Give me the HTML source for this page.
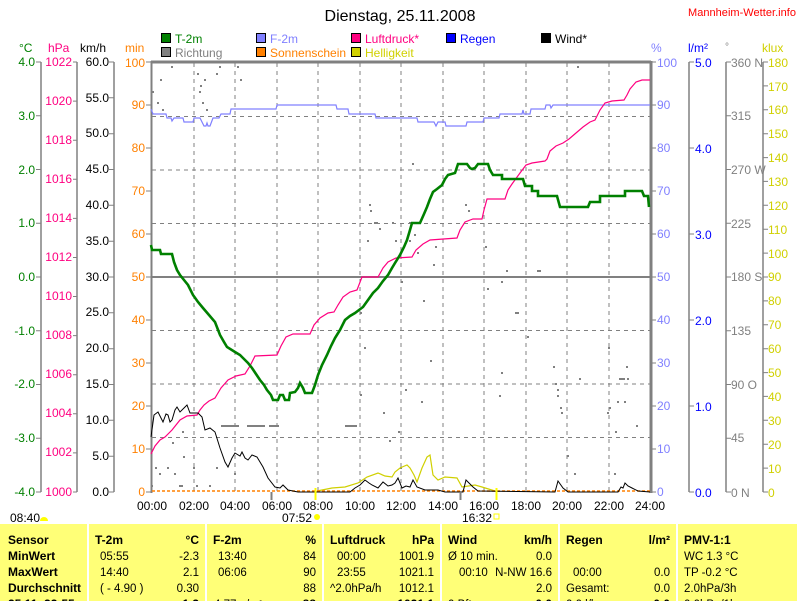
<!DOCTYPE html>
<html><head><meta charset="utf-8"><style>
body{margin:0;background:#fff;}
svg{display:block;font-family:"Liberation Sans",sans-serif;}
</style></head><body>
<svg width="800" height="601" viewBox="0 0 800 601" xmlns="http://www.w3.org/2000/svg">
<rect width="800" height="601" fill="#fff"/>
<text x="400" y="21" font-size="16" text-anchor="middle">Dienstag, 25.11.2008</text>
<text x="688" y="16" font-size="11" fill="#ff0000" textLength="108">Mannheim-Wetter.info</text>

<g font-size="12" stroke="#000" stroke-width="1">
<rect x="161.5" y="33.5" width="9" height="9" fill="#008000"/>
<rect x="161.5" y="47.5" width="9" height="9" fill="#808080"/>
<rect x="256.5" y="33.5" width="9" height="9" fill="#8080ff"/>
<rect x="256.5" y="47.5" width="9" height="9" fill="#ff8000"/>
<rect x="351.5" y="33.5" width="9" height="9" fill="#ff0080"/>
<rect x="351.5" y="47.5" width="9" height="9" fill="#d0d000"/>
<rect x="446.5" y="33.5" width="9" height="9" fill="#0000ff"/>
<rect x="541.5" y="33.5" width="9" height="9" fill="#000"/>
</g>
<g font-size="12">
<text x="175" y="43" fill="#008000">T-2m</text>
<text x="175" y="57" fill="#808080">Richtung</text>
<text x="270" y="43" fill="#8080ff">F-2m</text>
<text x="270" y="57" fill="#ff8000">Sonnenschein</text>
<text x="365" y="43" fill="#ff0080">Luftdruck*</text>
<text x="365" y="57" fill="#d0d000">Helligkeit</text>
<text x="460" y="43" fill="#0000ff">Regen</text>
<text x="555" y="43" fill="#000">Wind*</text>
</g>
<g font-size="12">
<text x="19" y="52" fill="#008000">°C</text>
<text x="48" y="52" fill="#ff0080">hPa</text>
<text x="80" y="52" fill="#000">km/h</text>
<text x="125" y="52" fill="#ff8000">min</text>
<text x="651" y="52" fill="#8080ff">%</text>
<text x="688" y="52" fill="#0000ff">l/m²</text>
<text x="725" y="50" fill="#808080" font-size="10">°</text>
<text x="762" y="52" fill="#d0d000">klux</text>
</g>

<g stroke="#808080" stroke-width="1" stroke-dasharray="4,4">
<line x1="152" y1="116.5" x2="650" y2="116.5"/>
<line x1="152" y1="170" x2="650" y2="170"/>
<line x1="152" y1="223.5" x2="650" y2="223.5"/>
<line x1="152" y1="330.5" x2="650" y2="330.5"/>
<line x1="152" y1="384" x2="650" y2="384"/>
<line x1="152" y1="437.5" x2="650" y2="437.5"/>
<line x1="194" y1="63" x2="194" y2="491"/>
<line x1="235" y1="63" x2="235" y2="491"/>
<line x1="277" y1="63" x2="277" y2="491"/>
<line x1="318" y1="63" x2="318" y2="491"/>
<line x1="360" y1="63" x2="360" y2="491"/>
<line x1="401" y1="63" x2="401" y2="491"/>
<line x1="443" y1="63" x2="443" y2="491"/>
<line x1="484" y1="63" x2="484" y2="491"/>
<line x1="526" y1="63" x2="526" y2="491"/>
<line x1="567" y1="63" x2="567" y2="491"/>
<line x1="609" y1="63" x2="609" y2="491"/>
</g>
<line x1="152" y1="277" x2="650" y2="277" stroke="#808080" stroke-width="2"/>
<g stroke="#808080" fill="none">
<line x1="151" y1="62" x2="651" y2="62" stroke-width="3"/>
<line x1="651" y1="61" x2="651" y2="493" stroke-width="3"/>
<line x1="151.5" y1="61" x2="151.5" y2="493" stroke-width="2"/>
</g>

<g stroke="#808080" stroke-width="1.5">
<line x1="41" y1="62" x2="41" y2="492"/>
<line x1="77" y1="62" x2="77" y2="492"/>
<line x1="114" y1="62" x2="114" y2="492"/>
<line x1="689" y1="62" x2="689" y2="492"/>
<line x1="726" y1="62" x2="726" y2="492"/>
<line x1="763" y1="62" x2="763" y2="492"/>
</g>
<g font-size="12" fill="#008000" text-anchor="end">
<text x="35" y="66">4.0</text><text x="35" y="120">3.0</text><text x="35" y="174">2.0</text><text x="35" y="227">1.0</text><text x="35" y="281">0.0</text><text x="35" y="335">-1.0</text><text x="35" y="388">-2.0</text><text x="35" y="442">-3.0</text><text x="35" y="496">-4.0</text>
</g>
<g stroke="#808080" stroke-width="1">
<path d="M36 62H41M36 115.75H41M36 169.5H41M36 223.25H41M36 277H41M36 330.75H41M36 384.5H41M36 438.25H41M36 492H41"/>
<path d="M73 62H77M73 101.1H77M73 140.2H77M73 179.3H77M73 218.4H77M73 257.5H77M73 296.5H77M73 335.6H77M73 374.7H77M73 413.8H77M73 452.9H77M73 492H77"/>
<path d="M109 62H114M109 97.8H114M109 133.7H114M109 169.5H114M109 205.3H114M109 241.2H114M109 277H114M109 312.8H114M109 348.7H114M109 384.5H114M109 420.3H114M109 456.2H114M109 492H114"/>
<path d="M146 62H151M146 105H151M146 148H151M146 191H151M146 234H151M146 277H151M146 320H151M146 363H151M146 406H151M146 449H151M146 492H151"/>
<path d="M651 62H656M651 105H656M651 148H656M651 191H656M651 234H656M651 277H656M651 320H656M651 363H656M651 406H656M651 449H656M651 492H656"/>
<path d="M689 62H694M689 148H694M689 234H694M689 320H694M689 406H694M689 492H694"/>
<path d="M726 62H731M726 115.75H731M726 169.5H731M726 223.25H731M726 277H731M726 330.75H731M726 384.5H731M726 438.25H731M726 492H731"/>
<path d="M763 62H768M763 85.9H768M763 109.8H768M763 133.7H768M763 157.6H768M763 181.4H768M763 205.3H768M763 229.2H768M763 253.1H768M763 277H768M763 300.9H768M763 324.8H768M763 348.7H768M763 372.6H768M763 396.4H768M763 420.3H768M763 444.2H768M763 468.1H768M763 492H768"/>
</g>
<g font-size="12" fill="#ff0080" text-anchor="end">
<text x="72" y="66">1022</text><text x="72" y="105">1020</text><text x="72" y="144">1018</text><text x="72" y="183">1016</text><text x="72" y="222">1014</text><text x="72" y="261">1012</text><text x="72" y="300">1010</text><text x="72" y="339">1008</text><text x="72" y="378">1006</text><text x="72" y="417">1004</text><text x="72" y="456">1002</text><text x="72" y="496">1000</text>
</g>
<g font-size="12" fill="#000" text-anchor="end">
<text x="109" y="66">60.0</text><text x="109" y="102">55.0</text><text x="109" y="137">50.0</text><text x="109" y="173">45.0</text><text x="109" y="209">40.0</text><text x="109" y="245">35.0</text><text x="109" y="281">30.0</text><text x="109" y="316">25.0</text><text x="109" y="352">20.0</text><text x="109" y="388">15.0</text><text x="109" y="424">10.0</text><text x="109" y="460">5.0</text><text x="109" y="496">0.0</text>
</g>
<g font-size="12" fill="#ff8000" text-anchor="end">
<text x="145" y="67">100</text><text x="145" y="109">90</text><text x="145" y="152">80</text><text x="145" y="195">70</text><text x="145" y="238">60</text><text x="145" y="281">50</text><text x="145" y="324">40</text><text x="145" y="367">30</text><text x="145" y="410">20</text><text x="145" y="453">10</text><text x="145" y="496">0</text>
</g>
<g font-size="12" fill="#8080ff">
<text x="657" y="67">100</text><text x="657" y="109">90</text><text x="657" y="152">80</text><text x="657" y="195">70</text><text x="657" y="238">60</text><text x="657" y="281">50</text><text x="657" y="324">40</text><text x="657" y="367">30</text><text x="657" y="410">20</text><text x="657" y="453">10</text><text x="657" y="496">0</text>
</g>
<g font-size="12" fill="#0000ff">
<text x="695" y="67">5.0</text><text x="695" y="153">4.0</text><text x="695" y="239">3.0</text><text x="695" y="325">2.0</text><text x="695" y="411">1.0</text><text x="695" y="497">0.0</text>
</g>
<g font-size="12" fill="#808080">
<text x="731" y="67">360 N</text><text x="731" y="120">315</text><text x="731" y="174">270 W</text><text x="731" y="228">225</text><text x="731" y="281">180 S</text><text x="731" y="335">135</text><text x="731" y="389">90  O</text><text x="731" y="442">45</text><text x="731" y="497">0   N</text>
</g>
<g font-size="12" fill="#d0d000">
<text x="768" y="67">180</text><text x="768" y="91">170</text><text x="768" y="114">160</text><text x="768" y="138">150</text><text x="768" y="162">140</text><text x="768" y="186">130</text><text x="768" y="210">120</text><text x="768" y="234">110</text><text x="768" y="258">100</text><text x="768" y="281">90</text><text x="768" y="305">80</text><text x="768" y="329">70</text><text x="768" y="353">60</text><text x="768" y="377">50</text><text x="768" y="401">40</text><text x="768" y="425">30</text><text x="768" y="449">20</text><text x="768" y="473">10</text><text x="768" y="497">0</text>
</g>

<g fill="#808080">
<rect x="152" y="91" width="2" height="2"/><rect x="157" y="102" width="2" height="2"/><rect x="160" y="79" width="2" height="2"/><rect x="162" y="109" width="2" height="2"/><rect x="171" y="66" width="2" height="2"/>
<rect x="197" y="73" width="2" height="2"/><rect x="199" y="91" width="2" height="2"/><rect x="200" y="85" width="2" height="2"/><rect x="202" y="102" width="2" height="2"/><rect x="204" y="79" width="2" height="2"/><rect x="206" y="109" width="2" height="2"/><rect x="216" y="73" width="2" height="2"/><rect x="219" y="66" width="2" height="2"/><rect x="237" y="66" width="2" height="2"/><rect x="240" y="79" width="2" height="2"/>
<rect x="369" y="204" width="2" height="2"/><rect x="370" y="210" width="2" height="2"/><rect x="374" y="222" width="4" height="2"/><rect x="379" y="228" width="2" height="2"/><rect x="367" y="240" width="2" height="2"/><rect x="392" y="222" width="2" height="2"/><rect x="395" y="240" width="2" height="2"/>
<rect x="412" y="163" width="2" height="2"/><rect x="465" y="204" width="2" height="2"/><rect x="468" y="210" width="2" height="2"/><rect x="409" y="222" width="2" height="2"/><rect x="414" y="234" width="2" height="2"/><rect x="409" y="240" width="2" height="2"/><rect x="417" y="252" width="2" height="2"/><rect x="435" y="246" width="2" height="2"/><rect x="433" y="264" width="2" height="2"/><rect x="485" y="246" width="2" height="2"/><rect x="506" y="270" width="2" height="2"/><rect x="537" y="270" width="4" height="2"/><rect x="577" y="66" width="2" height="2"/>
<rect x="221" y="425" width="18" height="2"/><rect x="247" y="425" width="18" height="2"/><rect x="269" y="425" width="10" height="2"/><rect x="345" y="425" width="12" height="2"/>
<rect x="360" y="312" width="2" height="2"/><rect x="364" y="347" width="2" height="2"/><rect x="360" y="394" width="2" height="2"/><rect x="383" y="412" width="2" height="2"/><rect x="182" y="431" width="2" height="2"/><rect x="172" y="442" width="2" height="2"/><rect x="183" y="456" width="2" height="2"/><rect x="155" y="467" width="2" height="2"/><rect x="167" y="467" width="2" height="2"/><rect x="193" y="467" width="2" height="2"/><rect x="216" y="467" width="2" height="2"/><rect x="159" y="473" width="2" height="2"/><rect x="174" y="473" width="2" height="2"/><rect x="234" y="473" width="2" height="2"/><rect x="151" y="485" width="2" height="2"/><rect x="179" y="485" width="4" height="2"/><rect x="196" y="485" width="2" height="2"/><rect x="209" y="485" width="2" height="2"/><rect x="389" y="440" width="2" height="2"/>
<rect x="401" y="281" width="2" height="2"/><rect x="423" y="300" width="2" height="2"/><rect x="501" y="281" width="2" height="2"/><rect x="487" y="288" width="2" height="2"/><rect x="515" y="312" width="4" height="2"/><rect x="527" y="336" width="2" height="2"/><rect x="430" y="360" width="2" height="2"/><rect x="501" y="372" width="2" height="2"/><rect x="553" y="366" width="2" height="2"/><rect x="555" y="383" width="2" height="2"/><rect x="557" y="389" width="2" height="2"/><rect x="557" y="395" width="2" height="2"/><rect x="405" y="389" width="2" height="2"/><rect x="421" y="401" width="2" height="2"/><rect x="499" y="395" width="2" height="2"/><rect x="579" y="378" width="2" height="2"/><rect x="608" y="347" width="2" height="2"/><rect x="609" y="407" width="2" height="2"/><rect x="607" y="412" width="2" height="2"/><rect x="560" y="407" width="2" height="2"/><rect x="561" y="412" width="2" height="2"/><rect x="617" y="401" width="2" height="2"/><rect x="624" y="401" width="2" height="2"/><rect x="619" y="378" width="6" height="2"/><rect x="627" y="378" width="2" height="2"/><rect x="626" y="366" width="2" height="2"/><rect x="398" y="431" width="2" height="2"/><rect x="615" y="431" width="2" height="2"/><rect x="636" y="425" width="2" height="2"/><rect x="567" y="455" width="2" height="2"/><rect x="574" y="473" width="2" height="2"/><rect x="614" y="473" width="2" height="2"/><rect x="400" y="467" width="2" height="2"/>
</g>

<polyline fill="none" stroke="#8080ff" stroke-width="1.2" points="151,109 153,114 166,114 167,118 171,118 172,121 174,118 183,118 184,122 193,122 194,118 200,118 202,122 204,126 206,126 207,123 208,126 210,126 213,118 219,118 221,114 230,114 231,109 276,109 277,105 336,105 337,109 348,109 349,114 375,114 376,118 417,118 418,122 434,122 436,126 438,122 445,122 446,126 466,126 467,122 483,122 484,118 499,118 500,114 522,114 523,110 524,114 530,114 531,109 545,109 546,105 550,105 551,108 553,105 650,105"/>
<polyline fill="none" stroke="#ff0080" stroke-width="1.2" points="151,454 155,446 160,440 165,437 172,430 180,420 187,416 197,415 200,410 204,405 209,401 215,398 218,393 221,388 228,380 236,376 245,374 250,366 255,356 277,355 281,346 286,337 293,334 310,334 314,325 320,318 328,313 334,312 338,305 343,297 350,292 357,290 362,277 378,277 383,268 388,262 396,258 412,257 416,250 423,244 430,240 457,238 460,230 465,222 473,219 482,219 484,210 487,199 505,199 508,190 512,184 520,173 526,165 532,163 545,161 547,159 550,151 556,146 563,143 569,139 576,133 583,127 590,122 595,120 600,110 605,103 612,101 624,100 627,95 630,89 636,82 642,80 650,80"/>
<polyline fill="none" stroke="#008000" stroke-width="2.6" points="151,245 152,250 160,250 161,254 172,254 174,262 177,270 180,275 184,280 188,285 193,295 198,302 203,308 209,315 215,322 220,335 224,342 227,347 235,352 240,355 243,358 248,363 252,368 256,374 260,380 264,385 267,390 271,395 273,400 278,400 280,395 283,395 285,400 289,400 290,393 295,392 298,388 300,383 303,388 305,393 312,393 315,385 318,375 322,365 327,355 331,346 335,338 340,330 345,320 350,316 355,313 359,310 363,307 368,300 373,293 378,288 383,281 388,275 392,268 395,263 400,255 404,247 407,240 410,230 412,223 420,223 424,214 427,207 430,199 433,192 437,189 442,185 445,179 448,175 455,173 458,164 467,164 470,168 472,169 475,168 478,164 488,164 490,170 493,175 502,175 502,179 523,179 525,186 532,186 532,191 538,191 538,196 557,196 560,207 588,207 590,202 600,202 600,196 625,196 625,191 642,191 644,196 648,196 649,207"/>
<polyline fill="none" stroke="#d0d000" stroke-width="1.2" points="317,491 332,488 345,487 358,483 367,477 378,473 385,476 392,477 395,472 400,468 407,465 410,468 414,475 417,482 422,468 427,457 430,455 433,475 438,480 445,477 457,478 462,487 475,485 482,487 495,491"/>
<line x1="152" y1="491" x2="650" y2="491" stroke="#ff8000" stroke-width="1.5" stroke-dasharray="3,2"/>
<polyline fill="none" stroke="#000" stroke-width="1" points="151,437 154,415 158,412 161,418 163,422 166,414 168,415 170,422 172,420 175,410 177,407 180,412 184,408 187,405 190,413 198,413 202,417 205,430 210,428 215,432 220,448 225,462 228,467 232,458 235,453 240,456 242,452 245,458 248,460 252,455 257,457 260,462 263,467 268,478 275,487 280,488 283,485 288,490 298,492 350,492 355,488 360,485 365,480 369,483 372,485 378,488 383,482 388,486 392,485 395,483 398,478 402,488 406,486 410,487 413,480 417,487 425,490 438,490 445,492 463,492 466,480 470,484 473,487 478,491 555,492 558,481 563,488 568,492 618,492 621,487 623,488 625,483 628,486 632,488 638,491 650,492"/>
<line x1="271.5" y1="492" x2="271.5" y2="500" stroke="#808080" stroke-width="2"/>
<line x1="460.5" y1="492" x2="460.5" y2="500" stroke="#808080" stroke-width="2"/>
<line x1="315.5" y1="488" x2="315.5" y2="500" stroke="#ffff00" stroke-width="2"/>
<line x1="496.5" y1="488" x2="496.5" y2="500" stroke="#ffff00" stroke-width="2"/>

<g font-size="12" text-anchor="middle">
<text x="152" y="510">00:00</text><text x="194" y="510">02:00</text><text x="235" y="510">04:00</text><text x="277" y="510">06:00</text><text x="318" y="510">08:00</text><text x="360" y="510">10:00</text><text x="401" y="510">12:00</text><text x="443" y="510">14:00</text><text x="484" y="510">16:00</text><text x="526" y="510">18:00</text><text x="567" y="510">20:00</text><text x="609" y="510">22:00</text><text x="650" y="510">24:00</text>
</g>
<g font-size="12">
<text x="10" y="522">08:40</text>
<path d="M40 521 A4 4 0 0 1 48 521 Z" fill="#ffff00"/>
<text x="282" y="522">07:52</text>
<circle cx="317" cy="517" r="3" fill="#ffff00"/>
<text x="462" y="522">16:32</text>
<rect x="494" y="514" width="5" height="5" fill="none" stroke="#ffff00"/>
</g>

<g fill="#ffff77">
<rect x="0" y="524" width="87" height="77"/>
<rect x="89" y="524" width="116" height="77"/>
<rect x="207" y="524" width="115" height="77"/>
<rect x="324" y="524" width="116" height="77"/>
<rect x="442" y="524" width="116" height="77"/>
<rect x="560" y="524" width="116" height="77"/>
<rect x="678" y="524" width="119" height="77"/>
</g>
<g font-size="12" font-weight="bold">
<text x="8" y="544">Sensor</text><text x="8" y="560">MinWert</text><text x="8" y="576">MaxWert</text><text x="8" y="592" textLength="73">Durchschnitt</text><text x="8" y="608">25.11. 23:55</text>
<text x="95" y="544">T-2m</text><text x="199" y="544" text-anchor="end">°C</text>
<text x="213" y="544">F-2m</text><text x="316" y="544" text-anchor="end">%</text>
<text x="330" y="544">Luftdruck</text><text x="434" y="544" text-anchor="end">hPa</text>
<text x="448" y="544">Wind</text><text x="552" y="544" text-anchor="end">km/h</text>
<text x="566" y="544">Regen</text><text x="670" y="544" text-anchor="end">l/m²</text>
<text x="684" y="544">PMV-1:1</text>
<text x="199" y="608" text-anchor="end">1.3</text><text x="316" y="608" text-anchor="end">88</text><text x="434" y="608" text-anchor="end">1021.1</text><text x="552" y="608" text-anchor="end">0.0</text><text x="670" y="608" text-anchor="end">0.0</text>
</g>
<g font-size="11.5">
<text x="100" y="560">05:55</text><text x="199" y="560" text-anchor="end">-2.3</text>
<text x="100" y="576">14:40</text><text x="199" y="576" text-anchor="end">2.1</text>
<text x="100" y="592">( - 4.90 )</text><text x="199" y="592" text-anchor="end">0.30</text>
<text x="218" y="560">13:40</text><text x="316" y="560" text-anchor="end">84</text>
<text x="218" y="576">06:06</text><text x="316" y="576" text-anchor="end">90</text>
<text x="316" y="592" text-anchor="end">88</text>
<text x="214" y="608">4.77 g/m³</text>
<text x="337" y="560">00:00</text><text x="434" y="560" text-anchor="end">1001.9</text>
<text x="337" y="576">23:55</text><text x="434" y="576" text-anchor="end">1021.1</text>
<text x="330" y="592">^2.0hPa/h</text><text x="434" y="592" text-anchor="end">1012.1</text>
<text x="448" y="560">Ø 10 min.</text><text x="552" y="560" text-anchor="end">0.0</text>
<text x="459" y="576">00:10</text><text x="552" y="576" text-anchor="end">N-NW 16.6</text>
<text x="552" y="592" text-anchor="end">2.0</text>
<text x="448" y="608">0 Bft</text>
<text x="573" y="576">00:00</text><text x="670" y="576" text-anchor="end">0.0</text>
<text x="566" y="592">Gesamt:</text><text x="670" y="592" text-anchor="end">0.0</text>
<text x="566" y="608">0.0 l/h</text>
<text x="684" y="560">WC 1.3 °C</text>
<text x="684" y="576">TP -0.2 °C</text>
<text x="684" y="592">2.0hPa/3h</text>
<text x="684" y="608">0.0hPa/1h</text>
</g>
</svg>
</body></html>
